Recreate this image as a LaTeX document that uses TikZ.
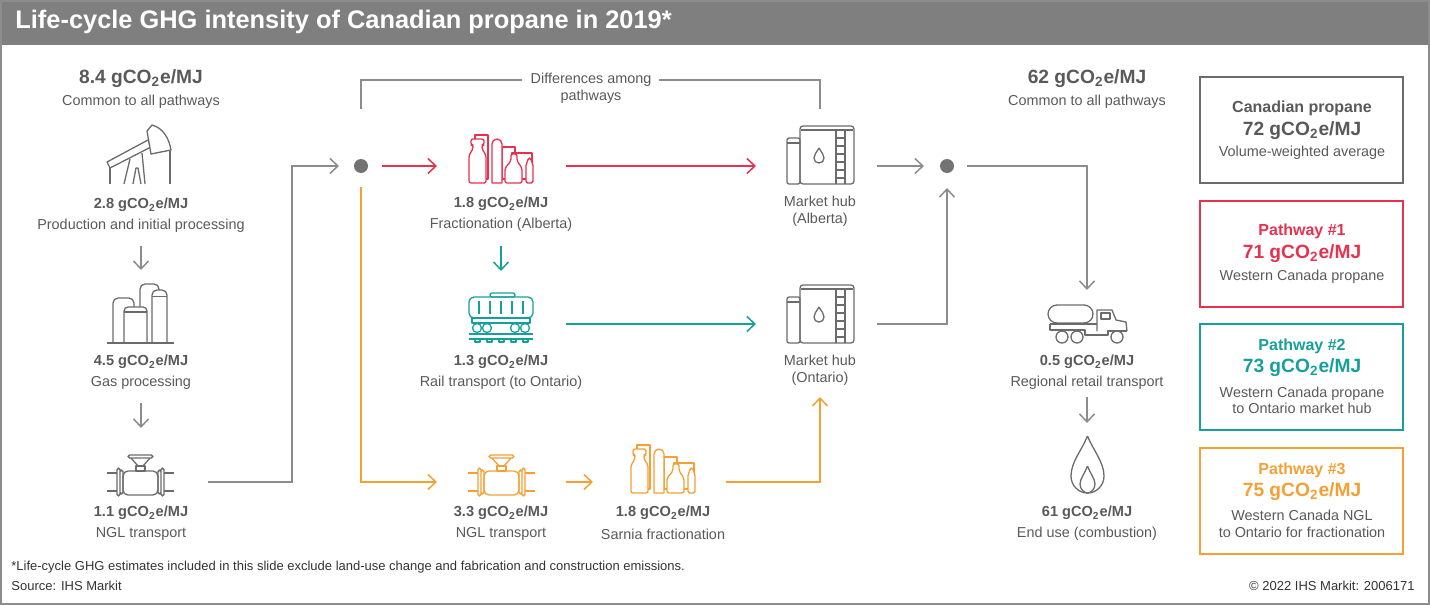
\documentclass[tikz,border=0pt]{standalone}
\usepackage{fontspec}
\setmainfont{Liberation Sans}
\usepackage{tikz}
\usetikzlibrary{arrows.meta, positioning}

\definecolor{barGray}{HTML}{7F7F7F}
\definecolor{txtGray}{HTML}{595959}
\definecolor{lineGray}{HTML}{8C8C8C}
\definecolor{iconGray}{HTML}{6B6B6B}
\definecolor{dotGray}{HTML}{737373}
\definecolor{pwRed}{HTML}{E8314F}
\definecolor{pwTeal}{HTML}{16A09A}
\definecolor{pwOrange}{HTML}{F5A034}

\newcommand{\gco}{gCO\textsubscript{2}e/MJ}

\tikzset{
  icon/.style={line width=0.65pt, line join=round},
  pics/pumpjackicon/.style={code={
    \draw[icon] (3,44) -- (3,60) (63,27) -- (63,60);
    \draw[icon] (17,60) -- (23,35) (38,60) -- (35,29) (26,60) -- (29,44) -- (31,44) -- (34,60);
    \draw[icon, fill=white] (0,38) -- (41,16) -- (44,23) -- (3,44) -- cycle;
    \draw[icon, fill=white] (40,7) -- (45,1) .. controls (56,4) and (62,14) .. (64,26) -- (44,30) -- cycle;
  }},
  pics/gasicon/.style={code={
    \draw[icon, fill=white, rounded corners=2.5pt] (33,60) -- (33,1) -- (52,1) -- (52,60);
    \draw[icon, fill=white, rounded corners=2.5pt] (6,60) -- (6,15) -- (27,15) -- (27,60);
    \draw[icon, fill=white, rounded corners=2.5pt] (45,60) -- (45,7) -- (60,7) -- (60,60);
    \draw[icon] (45,13.5) -- (60,13.5);
    \draw[icon, fill=white, rounded corners=2pt] (17,60) -- (17,24) -- (40,24) -- (40,60);
    \draw[icon] (17,29) -- (40,29);
    \draw[icon] (0,60) -- (67,60);
  }},
  pics/valveicon/.style={code={
    \draw[icon] (0,18) -- (10,18) (0,36) -- (10,36) (57,18) -- (67,18) (57,36) -- (67,36);
    \draw[icon, rounded corners=0.8pt] (10,13) rectangle (13,41) (13,15) rectangle (16,39)
      (51,15) rectangle (54,39) (54,13) rectangle (57,41);
    \draw[icon, rounded corners=2.5pt] (16,16) rectangle (51,40);
    \draw[icon, fill=white] (29,11) rectangle (38,16);
    \draw[icon, rounded corners=0.8pt] (21,0) rectangle (46,3);
    \draw[icon] (24,3) -- (31,11) (43,3) -- (36,11);
  }},
  pics/fracicon/.style={code={
    \draw[icon, fill=white] (7,0) rectangle (20,44);
    \draw[icon, fill=white] (34,12) rectangle (47,44);
    \draw[icon, fill=white] (44,18) rectangle (64,44);
    \draw[icon, fill=white] (24,48) [rounded corners=2.5pt] -- (24,4) -- (34,4) [sharp corners] -- (34,48) -- cycle;
    \draw[icon, fill=white, rounded corners=1pt] (1,48) -- (1,20) -- (5,14) -- (5,10) -- (3,10) -- (3,4) -- (16,4) -- (16,10) -- (14,10) -- (14,14) -- (18,20) -- (18,48) -- cycle;
    \draw[icon, fill=white, rounded corners=1pt] (37,48) -- (37,33) -- (43,26) -- (43,19) -- (49,19) -- (49,26) -- (54,33) -- (54,48) -- cycle;
    \draw[icon, fill=white, rounded corners=0.8pt] (58,48) -- (58,29) -- (60,26) -- (60,23) -- (63,23) -- (63,26) -- (65,29) -- (65,48) -- cycle;
  }},
  pics/hubicon/.style={code={
    \draw[icon, rounded corners=1pt] (0,12) rectangle (13,58);
    \draw[icon] (0,17) -- (13,17);
    \draw[icon, rounded corners=1.5pt] (13,0) rectangle (67,58);
    \draw[icon] (14,4) -- (66,4);
    \draw[icon] (49,4) -- (49,58) (58,4) -- (58,58);
    \foreach \r in {12,20,...,52} \draw[icon] (49,\r) -- (58,\r);
    \draw[icon] (32,22) .. controls (35,27) and (37,29) .. (37,32) .. controls (37,35) and (35,37) .. (32,37)
      .. controls (29,37) and (27,35) .. (27,32) .. controls (27,29) and (29,27) .. (32,22);
  }},
  pics/railicon/.style={code={
    \draw[icon, rounded corners=1pt] (21,0) rectangle (46,4);
    \draw[icon, rounded corners=2.5pt] (0,4) rectangle (64,25);
    \foreach \s in {10,21,32,43,54} \draw[icon] (\s,8) -- (\s,21);
    \draw[icon] (3,25) rectangle (61,30);
    \foreach \w in {8,18,46,56} \draw[icon] (\w,35) circle[radius=4.5];
    \draw[icon] (0,41) -- (64,41) (0,46) -- (64,46);
    \foreach \t in {6,18,30,42,54} \draw[icon] (\t,46) -- (\t,49) -- (\t+5,49) -- (\t+5,46);
  }},
  pics/truckicon/.style={code={
    \draw[icon, rounded corners=4.5pt] (0,0) rectangle (45,18);
    \draw[icon] (49,26) -- (49,5) -- (64,5) -- (68,15) -- (78,17) -- (79,26);
    \draw[icon] (53,8) rectangle (62,14);
    \draw[icon] (2,19) -- (49,19);
    \draw[icon] (2,19) -- (2,25) -- (37,25) -- (37,30) -- (60,30) -- (60,26) -- (79,26);
    \foreach \w in {14,29,69} \draw[icon, fill=white] (\w,32) circle[radius=6];
  }},
  pics/flameicon/.style={code={
    \draw[icon] (16.5,0) .. controls (22,14) and (33,26) .. (33,40) .. controls (33,50) and (25,57) .. (16.5,57)
      .. controls (8,57) and (0,50) .. (0,40) .. controls (0,26) and (11,14) .. (16.5,0);
    \draw[icon] (16.5,30) .. controls (19,37) and (24,43) .. (24,48) .. controls (24,53) and (20,57) .. (16.5,57)
      .. controls (13,57) and (9,53) .. (9,48) .. controls (9,43) and (14,37) .. (16.5,30);
  }},
}

\begin{document}
\begin{tikzpicture}[x=0.5pt, y=-0.5pt,
    every node/.style={inner sep=0pt, text=txtGray, font=\fontsize{7.2}{8.3}\selectfont},
    lbl/.style={align=center},
    val/.style={font=\fontsize{7.3}{8.6}\selectfont\bfseries},
    bigval/.style={font=\fontsize{9.6}{11}\selectfont\bfseries},
    boxhead/.style={font=\fontsize{8}{9.6}\selectfont\bfseries},
    conn/.style={line width=0.75pt, -{Straight Barb[length=4pt, width=7.5pt, line width=0.75pt]}},
    bline/.style={line width=0.75pt},
    junction/.style={circle, fill=dotGray, minimum size=7pt},
    pwbox/.style={draw, line width=1pt, minimum width=101.5pt, minimum height=53pt},
    footer/.style={font=\fontsize{6.5}{7.5}\selectfont, text=black!80}]
  \useasboundingbox (0,0) rectangle (1430,605);
  % Frame and title
  \fill[barGray] (0,0) rectangle (1430,45);
  \draw[lineGray, line width=1pt] (1,1) rectangle (1429,604);
  \node[anchor=west, text=white, font=\fontsize{12.7}{15}\selectfont\bfseries] (title) at (15,22) {Life-cycle GHG intensity of Canadian propane in 2019*};

  % Common upstream steps
  \node[bigval] (upTotal) at (141,79) {8.4 \gco};
  \node (upTxt) at (141,102) {Common to all pathways};
  \pic[iconGray] at (107,124) {pumpjackicon};
  \node[val] (prodVal) at (141,205) {2.8 \gco};
  \node (prodTxt) at (141,226) {Production and initial processing};
  \pic[iconGray] at (107,283) {gasicon};
  \node[val] (gasVal) at (141,362) {4.5 \gco};
  \node (gasTxt) at (141,383) {Gas processing};
  \pic[iconGray] at (107,455) {valveicon};
  \node[val] (nglVal) at (141,513) {1.1 \gco};
  \node (nglTxt) at (141,534) {NGL transport};
  \coordinate (prodOut) at (141,246);
  \coordinate (gasIn) at (141,270);
  \coordinate (gasOut) at (141,403);
  \coordinate (nglIn) at (141,428);
  \draw[conn, lineGray] (prodOut) -- (gasIn);
  \draw[conn, lineGray] (gasOut) -- (nglIn);

  % Split into pathways
  \node[junction] (splitW) at (361,166) {};
  \coordinate (nglOut) at (208,482);
  \coordinate (splitIn) at (339,166);
  \draw[conn, lineGray] (nglOut) -| (292,300) |- (splitIn);

  % Differences among pathways
  \node[lbl] (diffTxt) at (591,88) {Differences among\\pathways};
  \draw[bline, lineGray] (361,109) |- (522,80) (659,80) -| (820,109);

  % Alberta fractionation (pathway 1)
  \pic[pwRed] at (468,135) {fracicon};
  \node[val] (fracVal) at (501,204) {1.8 \gco};
  \node (fracTxt) at (501,225) {Fractionation (Alberta)};
  \coordinate (fracIn) at (437,166);
  \coordinate (fracOut) at (566,166);
  \draw[conn, pwRed] (splitW) ++(21,0) -- (fracIn);

  % Market hubs
  \pic[iconGray] at (787,126) {hubicon};
  \node[lbl] (hubAlb) at (820,211) {Market hub\\(Alberta)};
  \pic[iconGray] at (787,285) {hubicon};
  \node[lbl] (hubOnt) at (820,370) {Market hub\\(Ontario)};
  \coordinate (hubAlbIn) at (756,166);
  \coordinate (hubOntIn) at (756,324);
  \coordinate (hubAlbOut) at (877,166);
  \coordinate (hubOntOut) at (877,324);
  \draw[conn, pwRed] (fracOut) -- (hubAlbIn);

  % Rail transport (pathway 2)
  \pic[pwTeal] at (469,293) {railicon};
  \node[val] (railVal) at (501,362) {1.3 \gco};
  \node (railTxt) at (501,383) {Rail transport (to Ontario)};
  \coordinate (railIn) at (501,271);
  \coordinate (railOut) at (566,324);
  \draw[conn, pwTeal] (501,246) -- (railIn);
  \draw[conn, pwTeal] (railOut) -- (hubOntIn);

  % NGL to Sarnia (pathway 3)
  \pic[pwOrange] at (468,455) {valveicon};
  \node[val] (ngl3Val) at (501,513) {3.3 \gco};
  \node (ngl3Txt) at (501,534) {NGL transport};
  \pic[pwOrange] at (630,445) {fracicon};
  \node[val] (sarVal) at (663,513) {1.8 \gco};
  \node (sarTxt) at (663,534) {Sarnia fractionation};
  \coordinate (ngl3In) at (437,482);
  \coordinate (sarIn) at (593,482);
  \coordinate (sarOut) at (726,482);
  \coordinate (hubOntBot) at (820,397);
  \draw[conn, pwOrange] (splitW) ++(0,21) |- (ngl3In);
  \draw[conn, pwOrange] (566,482) -- (sarIn);
  \draw[conn, pwOrange] (sarOut) -| (hubOntBot);

  % Merge and common downstream steps
  \node[junction] (mergeE) at (947,166) {};
  \coordinate (mergeIn) at (924,166);
  \coordinate (mergeBot) at (947,188);
  \draw[conn, lineGray] (hubAlbOut) -- (mergeIn);
  \draw[conn, lineGray] (hubOntOut) -| (mergeBot);
  \node[bigval] (downTotal) at (1087,79) {62 \gco};
  \node (downTxt) at (1087,102) {Common to all pathways};
  \coordinate (truckIn) at (1087,290);
  \draw[conn, lineGray] (mergeE) ++(20,0) -| (truckIn);
  \pic[iconGray] at (1048,305) {truckicon};
  \node[val] (retailVal) at (1087,362) {0.5 \gco};
  \node (retailTxt) at (1087,383) {Regional retail transport};
  \coordinate (flameIn) at (1087,423);
  \draw[conn, lineGray] (1087,397) -- (flameIn);
  \pic[iconGray] at (1071,436) {flameicon};
  \node[val] (endVal) at (1087,513) {61 \gco};
  \node (endTxt) at (1087,534) {End use (combustion)};

  % Result boxes
  \node[pwbox, draw=iconGray] (avgBox) at (1301.5,130) {};
  \node[boxhead] (avgHead) at (1302,108) {Canadian propane};
  \node[bigval] (avgVal) at (1302,131) {72 \gco};
  \node (avgTxt) at (1302,153) {Volume-weighted average};
  \node[pwbox, draw=pwRed] (pw1Box) at (1301.5,253.5) {};
  \node[boxhead, text=pwRed] (pw1Head) at (1302,231) {Pathway \#1};
  \node[bigval, text=pwRed] (pw1Val) at (1302,254) {71 \gco};
  \node (pw1Txt) at (1302,277) {Western Canada propane};
  \node[pwbox, draw=pwTeal] (pw2Box) at (1301.5,377) {};
  \node[boxhead, text=pwTeal] (pw2Head) at (1302,346) {Pathway \#2};
  \node[bigval, text=pwTeal] (pw2Val) at (1302,368) {73 \gco};
  \node[lbl] (pw2Txt) at (1302,400.5) {Western Canada propane\\to Ontario market hub};
  \node[pwbox, draw=pwOrange] (pw3Box) at (1301.5,500.5) {};
  \node[boxhead, text=pwOrange] (pw3Head) at (1302,470) {Pathway \#3};
  \node[bigval, text=pwOrange] (pw3Val) at (1302,492) {75 \gco};
  \node[lbl] (pw3Txt) at (1302,524) {Western Canada NGL\\to Ontario for fractionation};

  % Footer
  \node[anchor=west, footer] (note) at (11,567) {*Life-cycle GHG estimates included in this slide exclude land-use change and fabrication and construction emissions.};
  \node[anchor=west, footer] (source) at (11,586) {Source: IHS Markit};
  \node[anchor=east, footer] (copy) at (1415,586) {© 2022 IHS Markit: 2006171};
\end{tikzpicture}
\end{document}
